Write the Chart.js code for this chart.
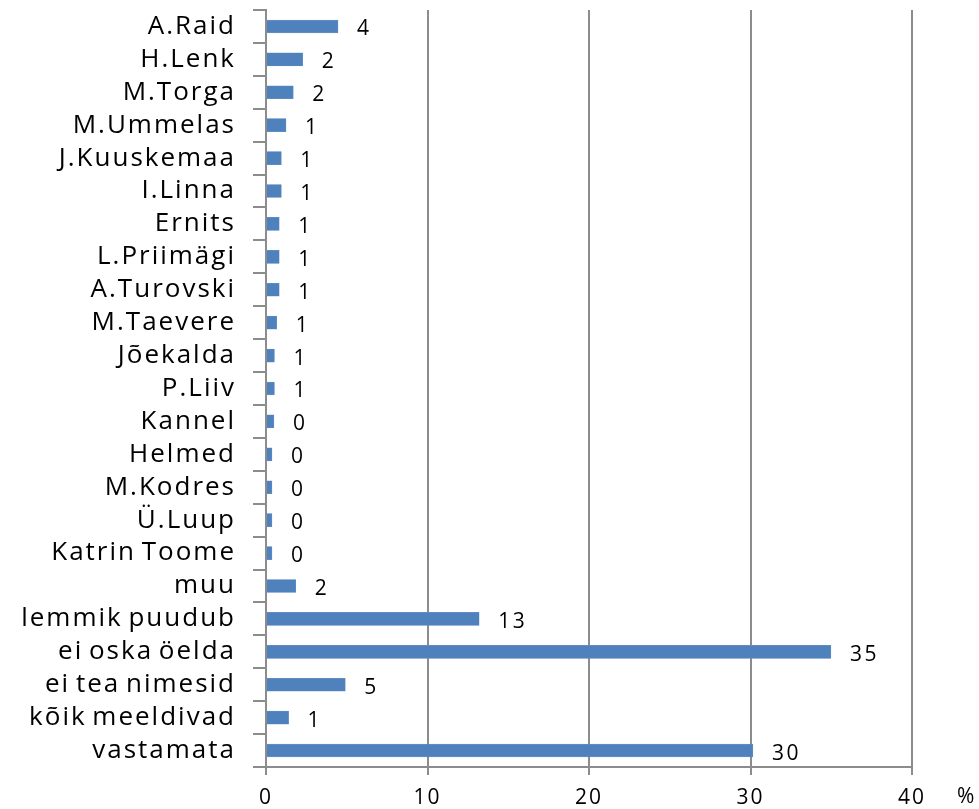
<!DOCTYPE html>
<html>
<head>
<meta charset="utf-8">
<script src="https://cdn.jsdelivr.net/npm/chart.js@4"></script>
<style>
  html, body { margin: 0; padding: 0; background: #fff; }
  #wrap { width: 979px; height: 809px; }
</style>
</head>
<body>
<div id="wrap"><canvas id="chart" width="979" height="809"></canvas></div>
<script>
// categories, top to bottom
const categories = [
    'A.Raid', 'H.Lenk', 'M.Torga', 'M.Ummelas', 'J.Kuuskemaa', 'I.Linna',
    'Ernits', 'L.Priimägi', 'A.Turovski', 'M.Taevere', 'Jõekalda', 'P.Liiv',
    'Kannel', 'Helmed', 'M.Kodres', 'Ü.Luup', 'Katrin Toome', 'muu',
    'lemmik puudub', 'ei oska öelda', 'ei tea nimesid', 'kõik meeldivad', 'vastamata'
];

// share of answers, %
const percentValues = [
    4.46, 2.27, 1.69, 1.24, 0.95, 0.95,
    0.82, 0.82, 0.82, 0.66, 0.52, 0.52,
    0.49, 0.37, 0.37, 0.37, 0.37, 1.84,
    13.2, 34.98, 4.91, 1.40, 30.15
];

const xTicks = [0, 10, 20, 30, 40];

const AXIS_GREY = '#8c8c8c';
const FONT = "'Open Sans', 'DejaVu Sans', sans-serif";

/* wide, Excel-like letter spacing for everything drawn on the canvas */
const spacing = {
    id: 'spacing',
    beforeDraw(chart) {
        chart.ctx.letterSpacing = '2px';
        chart.ctx.wordSpacing = '-3px';
    }
};

/* value labels to the right of each bar, plus the "%" unit */
const barLabels = {
    id: 'barLabels',
    afterDatasetsDraw(chart) {
        const ctx = chart.ctx;
        const meta = chart.getDatasetMeta(0);
        ctx.save();
        ctx.letterSpacing = '2.5px';
        ctx.fillStyle = '#000';
        ctx.font = '21px ' + FONT;
        ctx.textBaseline = 'middle';
        ctx.textAlign = 'left';
        meta.data.forEach((bar, i) => {
            ctx.fillText(String(Math.round(percentValues[i])), bar.x + 19, bar.y + 3);
        });
        ctx.fillText('%', 957, 797);
        ctx.restore();
    }
};

new Chart(document.getElementById('chart').getContext('2d'), {
    type: 'bar',
    data: {
        labels: categories,
        datasets: [{
            data: percentValues,
            backgroundColor: '#4f81bd',
            borderColor: '#6d96c8',
            borderWidth: 0.5,
            barThickness: 13,
        }],
    },
    options: {
        indexAxis: 'y',
        responsive: false,
        animation: false,
        layout: { padding: { top: 10, right: 67, left: 0, bottom: 0 } },
        plugins: {
            legend: { display: false },
            tooltip: { enabled: false },
        },
        scales: {
            x: {
                min: 0,
                max: 40,
                afterBuildTicks: s => { s.ticks = xTicks.map(v => ({ value: v })); },
                afterFit: s => { s.height = 42; },
                grid: {
                    color: AXIS_GREY,
                    lineWidth: 2,
                    tickLength: 8,
                },
                border: { color: AXIS_GREY, width: 2 },
                ticks: {
                    color: '#000',
                    font: { family: FONT, size: 21 },
                    padding: 10,
                },
            },
            y: {
                afterFit: s => {
                    s.width = 266;
                    s.paddingTop = 0;
                    s.paddingBottom = 0;
                },
                grid: {
                    offset: true,
                    drawOnChartArea: false,
                    color: AXIS_GREY,
                    lineWidth: 2,
                    tickLength: 13,
                },
                border: { color: AXIS_GREY, width: 2 },
                ticks: {
                    color: '#000',
                    font: { family: FONT, size: 26 },
                    padding: 17,
                    autoSkip: false,
                },
            },
        },
    },
    plugins: [spacing, barLabels],
});
</script>
</body>
</html>
